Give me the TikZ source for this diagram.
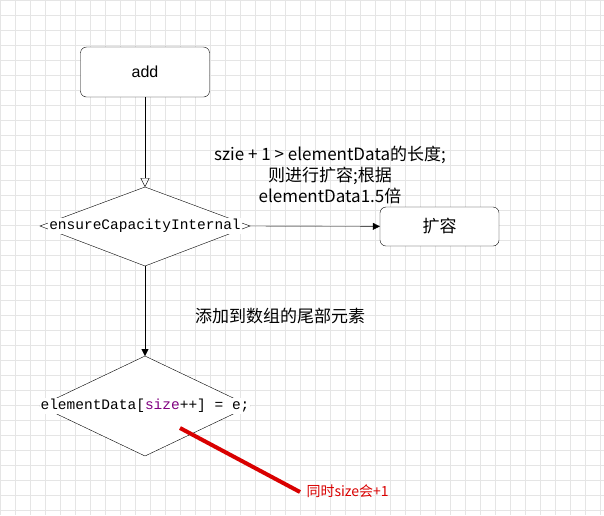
\documentclass[tikz,border=0pt]{standalone}
\usepackage{fontspec}
\setmainfont{Liberation Sans}
\setmonofont{Liberation Mono}
\newfontfamily\cjk{Noto Sans CJK SC}
\usetikzlibrary{shapes.geometric,arrows.meta}
\begin{document}
\begin{tikzpicture}[x=1pt,y=-1pt,
  box/.style={draw,rounded corners=6pt,minimum width=129pt,minimum height=50pt,font=\fontsize{16}{18}\selectfont},
  lbl/.style={font=\fontsize{17}{21}\selectfont\cjk,align=center},
  conn/.style={-{Triangle[length=7pt,width=7pt]}}]
\useasboundingbox (0,0) rectangle (604,515);
\fill[white] (0,0) rectangle (604,515);
\foreach \i in {0,15,...,604} \draw[black!10,line width=0.5pt] (\i,0) -- (\i,515);
\foreach \j in {0,15,...,515} \draw[black!10,line width=0.5pt] (0,\j) -- (604,\j);
\node[box,fill=white] (add) at (145,72) {add};
\node[box,fill=white,minimum width=119pt,minimum height=39pt] (kr) at (439.5,226.5) {\cjk\fontsize{17}{20}\selectfont 扩容};
\path[draw,fill=white] (145,187) coordinate(d1t) -- (250,226) coordinate(d1r) -- (145,266) coordinate(d1b) -- (40,226) coordinate(d1l) -- cycle;
\node[fill=white,inner sep=1pt,font=\fontsize{14.5}{16}\selectfont\ttfamily] (d1) at (145,226) {ensureCapacityInternal};
\path[draw,fill=white] (145,356) coordinate(d2t) -- (250,406) coordinate(d2r) -- (145,456) coordinate(d2b) -- (40,406) coordinate(d2l) -- cycle;
\node[fill=white,inner sep=1pt,font=\fontsize{14.5}{16}\selectfont\ttfamily] (d2) at (145,406) {elementData[\textcolor{violet}{size}++] = e;};
\draw[-{Triangle[open,length=9pt,width=9pt]}] (add) -- (d1t);
\draw[conn] (d1r) -- (kr);
\draw[conn] (d1b) -- (d2t);
\node[lbl] (t1) at (330,175) {szie + 1 > elementData的长度;\\则进行扩容;根据\\elementData1.5倍};
\node[lbl] (t2) at (280,316) {添加到数组的尾部元素};
\coordinate (r1) at (180,428);
\coordinate (r2) at (300,492);
\draw[red!85!black,line width=4pt] (r1) -- (r2);
\node[font=\fontsize{14}{16}\selectfont\cjk,text=red!85!black,anchor=west] (t3) at (303,491) {同时size会+1};
\end{tikzpicture}
\end{document}
